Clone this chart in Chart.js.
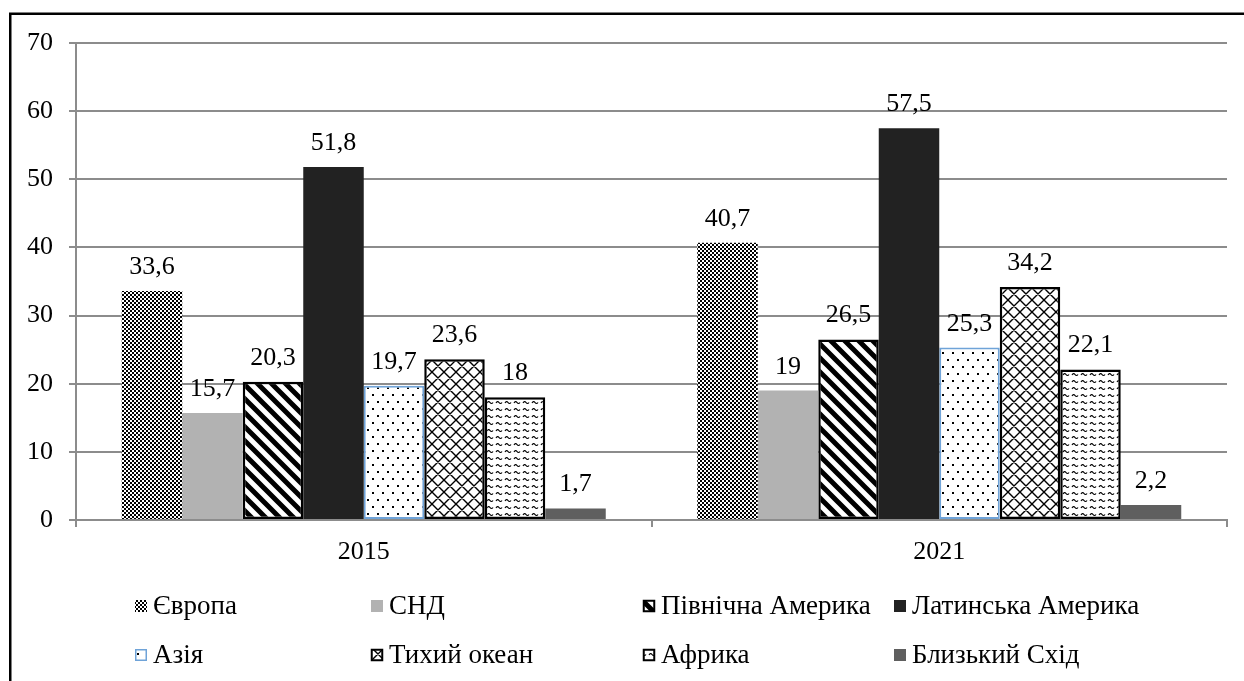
<!DOCTYPE html>
<html>
<head>
<meta charset="utf-8">
<script src="https://cdn.jsdelivr.net/npm/chart.js@4/dist/chart.umd.min.js"></script>
<style>
  html, body { margin: 0; padding: 0; background: #fff; overflow: hidden; }
  #wrap { position: relative; width: 1244px; height: 681px; }
</style>
</head>
<body>
<div id="wrap"><canvas id="c" width="1244" height="681"></canvas></div>
<script>
// Years on the category axis
const categories = ['2015', '2021'];

// Region names (legend order)
const regionNames = ['Європа', 'СНД', 'Північна Америка', 'Латинська Америка',
                     'Азія', 'Тихий океан', 'Африка', 'Близький Схід'];

// Values per region: [2015, 2021]
const europe       = [33.6, 40.7];
const cis          = [15.7, 19];
const northAmerica = [20.3, 26.5];
const latinAmerica = [51.8, 57.5];
const asia         = [19.7, 25.3];
const pacific      = [23.6, 34.2];
const africa       = [18, 22.1];
const middleEast   = [1.7, 2.2];

// Value-axis ticks
const yMin = 0, yMax = 70, yStep = 10;

const FONT = "'Liberation Serif', 'Times New Roman', serif";
const FS = 26;
const LEGEND_FS = 27;

// ---- fill patterns ----
function tile(w, h, draw) {
  const c = document.createElement('canvas');
  c.width = w; c.height = h;
  const g = c.getContext('2d');
  g.fillStyle = '#fff';
  g.fillRect(0, 0, w, h);
  draw(g, w, h);
  return g.createPattern(c, 'repeat');
}

const patChecker = tile(4, 4, g => {
  g.fillStyle = '#000';
  g.fillRect(0, 0, 2, 2);
  g.fillRect(2, 2, 2, 2);
});

const patStripes = tile(14, 14, (g, w, h) => {
  g.strokeStyle = '#000';
  g.lineWidth = 5;
  g.beginPath();
  for (let k = -1; k <= 1; k++) {
    g.moveTo(k * w - 2, -2);
    g.lineTo(k * w + w + 2, h + 2);
  }
  g.stroke();
});

const patDots = tile(10, 14, g => {
  g.fillStyle = '#000';
  g.fillRect(2, 2, 2, 2);
  g.fillRect(7, 9, 2, 2);
});

const patCross = tile(12, 12, (g, w, h) => {
  g.strokeStyle = '#000';
  g.lineWidth = 1.4;
  g.beginPath();
  for (let k = -1; k <= 1; k++) {
    g.moveTo(k * w - 1, -1); g.lineTo(k * w + w + 1, h + 1);
    g.moveTo(k * w + w + 1, -1); g.lineTo(k * w - 1, h + 1);
  }
  g.stroke();
});

// short wavy dashes with small gaps between them
const patWave = tile(9, 7, g => {
  g.strokeStyle = '#000';
  g.lineWidth = 1.2;
  g.beginPath();
  g.moveTo(1, 4);
  g.quadraticCurveTo(2.5, 1.5, 4, 3.5);
  g.quadraticCurveTo(5.5, 5.5, 7, 3.5);
  g.stroke();
});

const styles = [
  { bg: patChecker, border: 'rgba(0,0,0,0)', bw: 0 },
  { bg: '#b2b2b2',  border: 'rgba(0,0,0,0)', bw: 0 },
  { bg: patStripes, border: '#000', bw: 2.5 },
  { bg: '#222222',  border: 'rgba(0,0,0,0)', bw: 0 },
  { bg: patDots,    border: '#6fa3d8', bw: 2 },
  { bg: patCross,   border: '#000', bw: 2.5 },
  { bg: patWave,    border: '#000', bw: 2.5 },
  { bg: '#5f5f5f',  border: 'rgba(0,0,0,0)', bw: 0 }
];

const seriesValues = [europe, cis, northAmerica, latinAmerica, asia, pacific, africa, middleEast];

const datasets = seriesValues.map((vals, i) => ({
  label: regionNames[i],
  data: vals,
  backgroundColor: styles[i].bg,
  borderColor: styles[i].border,
  borderWidth: styles[i].bw,
  borderSkipped: false,
  categoryPercentage: 0.841,
  barPercentage: 1.0
}));

const fmt = v => String(v).replace('.', ',');

// value labels above each bar
const valueLabels = {
  id: 'valueLabels',
  afterDatasetsDraw(chart) {
    const ctx = chart.ctx;
    ctx.save();
    ctx.font = FS + 'px ' + FONT;
    ctx.fillStyle = '#000';
    ctx.textAlign = 'center';
    ctx.textBaseline = 'alphabetic';
    chart.data.datasets.forEach((ds, di) => {
      chart.getDatasetMeta(di).data.forEach((bar, i) => {
        ctx.fillText(fmt(ds.data[i]), bar.x, bar.y - 17);
      });
    });
    ctx.restore();
  }
};

// two-row legend in fixed columns, plus the outer frame
const legendGrid = {
  id: 'legendGrid',
  afterDraw(chart) {
    const ctx = chart.ctx;
    const cols = [135, 371, 643, 894];
    const rows = [606, 655];
    const box = 12;
    ctx.save();
    ctx.font = LEGEND_FS + 'px ' + FONT;
    ctx.textBaseline = 'middle';
    ctx.textAlign = 'left';
    chart.data.datasets.forEach((ds, i) => {
      const x = cols[i % 4];
      const y = rows[Math.floor(i / 4)];
      ctx.fillStyle = ds.backgroundColor;
      ctx.fillRect(x, y - box / 2, box, box);
      if (ds.borderWidth > 0) {
        ctx.strokeStyle = ds.borderColor;
        ctx.lineWidth = ds.borderColor === '#000' ? 2 : 1.5;
        ctx.strokeRect(x + 0.75, y - box / 2 + 0.75, box - 1.5, box - 1.5);
      }
      ctx.fillStyle = '#000';
      ctx.fillText(ds.label, x + 18, y + 1);
    });
    // frame
    ctx.strokeStyle = '#000';
    ctx.lineWidth = 2.5;
    ctx.strokeRect(10.25, 13.75, 1400, 900);
    ctx.restore();
  }
};

function build() {
  new Chart(document.getElementById('c'), {
    type: 'bar',
    data: { labels: categories, datasets },
    options: {
      responsive: false,
      animation: false,
      devicePixelRatio: 1,
      layout: { padding: { top: 43, right: 17, left: 0, bottom: 0 } },
      plugins: { legend: { display: false }, tooltip: { enabled: false } },
      scales: {
        x: {
          grid: { display: true, drawOnChartArea: false, offset: true, tickLength: 7, color: '#8c8c8c', lineWidth: 2 },
          border: { color: '#8c8c8c', width: 2 },
          ticks: { color: '#000', font: { family: FONT, size: FS }, padding: 10 },
          afterFit(s) { s.height = 161; }
        },
        y: {
          min: yMin, max: yMax,
          ticks: { stepSize: yStep, color: '#000', font: { family: FONT, size: FS }, padding: 16 },
          grid: { color: '#8c8c8c', lineWidth: 2, tickLength: 7 },
          border: { color: '#8c8c8c', width: 2 },
          afterFit(s) { s.width = 76; }
        }
      }
    },
    plugins: [valueLabels, legendGrid]
  });
}

if (document.fonts && document.fonts.load) {
  document.fonts.load(FS + 'px "Liberation Serif"').then(build, build);
} else {
  build();
}
</script>
</body>
</html>
